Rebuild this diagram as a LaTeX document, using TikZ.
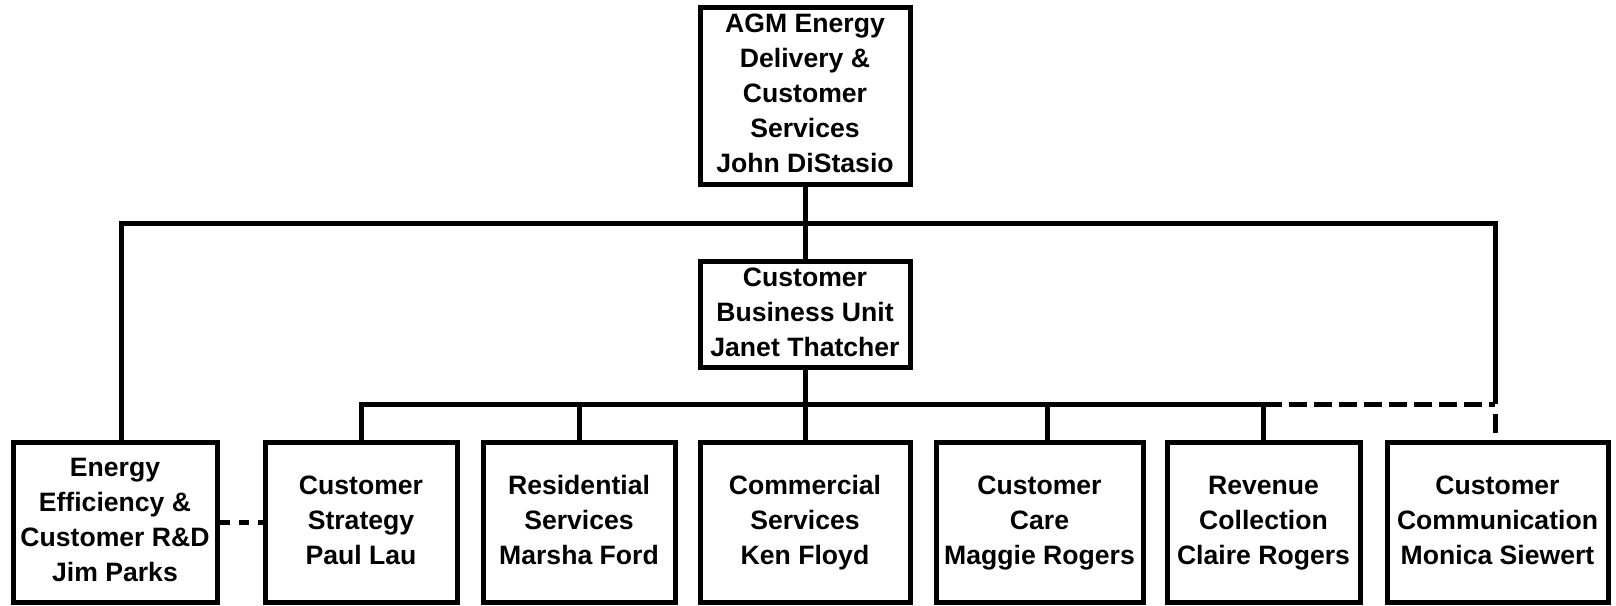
\documentclass[tikz,border=0pt]{standalone}
\usepackage{fontspec}
\setmainfont{Liberation Sans}
\begin{document}
\begin{tikzpicture}[x=0.5pt,y=-0.5pt,
 box/.style={draw,line width=2.5pt,align=center,inner sep=0pt,font=\bfseries\fontsize{13.3}{17.5}\selectfont},
 conn/.style={line width=2.5pt},
 dconn/.style={line width=2.5pt,dash pattern=on 9pt off 3.5pt},
 sconn/.style={line width=2.5pt,dash pattern=on 5pt off 4.5pt}]
\useasboundingbox (0,0) rectangle (1616,605);
\node[box,minimum width=105pt,minimum height=88.5pt] (top) at (805,95.5) {\strut AGM Energy\\Delivery \&\\Customer\\Services\\\strut John DiStasio};
\node[box,minimum width=105pt,minimum height=53pt] (mid) at (805,314) {\strut Customer\\Business Unit\\\strut Janet Thatcher};
\node[box,minimum width=102pt,minimum height=80pt] (energy) at (115,522) {\strut Energy\\Efficiency \&\\Customer R\&D\\\strut Jim Parks};
\node[box,minimum width=96pt,minimum height=80pt] (strat) at (361,522) {\strut Customer\\Strategy\\\strut Paul Lau};
\node[box,minimum width=96pt,minimum height=80pt] (res) at (579,522) {\strut Residential\\Services\\\strut Marsha Ford};
\node[box,minimum width=105pt,minimum height=80pt] (com) at (805,522) {\strut Commercial\\Services\\\strut Ken Floyd};
\node[box,minimum width=103.5pt,minimum height=80pt] (care) at (1039.5,522) {\strut Customer\\Care\\\strut Maggie Rogers};
\node[box,minimum width=96.5pt,minimum height=80pt] (rev) at (1263.5,522) {\strut Revenue\\Collection\\\strut Claire Rogers};
\node[box,minimum width=110.5pt,minimum height=80pt] (comm) at (1497.5,522) {\strut Customer\\Communication\\\strut Monica Siewert};
\coordinate (bar1) at (805,223);
\coordinate (bar2) at (805,404);
\coordinate (rc) at (1495,404);
\draw[conn] (top.south) -- (mid.north);
\draw[conn] ([xshift=3pt]energy.north) |- (bar1) -| (rc);
\draw[conn] (mid.south) -- (com.north);
\draw[conn] (strat.north) |- (rev.north |- bar2) -- (rev.north);
\draw[conn] (res.north) -- (res.north |- bar2);
\draw[conn] ([xshift=3.75pt]care.north) -- ([xshift=3.75pt]care.north |- bar2);
\draw[dconn] (rev.north |- bar2) -- (rc);
\draw[line width=2.5pt,dash pattern=on 9.5pt off 4.75pt,dash phase=9.5pt] (rc) -- (rc |- comm.north);
\draw[sconn] (energy.east) -- (strat.west);
\end{tikzpicture}
\end{document}
